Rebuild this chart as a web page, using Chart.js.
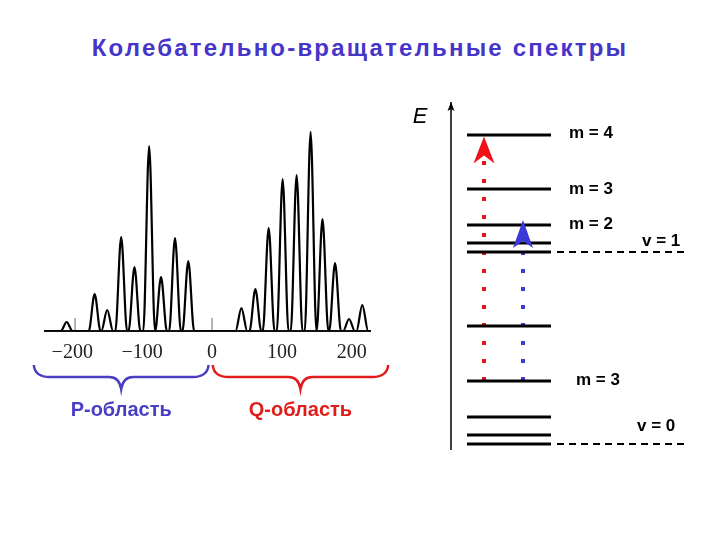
<!DOCTYPE html>
<html>
<head>
<meta charset="utf-8">
<script src="https://cdn.jsdelivr.net/npm/chart.js@4.4.1/dist/chart.umd.min.js"></script>
<style>
    html, body { margin: 0; padding: 0; background: #fff; }
    #wrap { position: relative; width: 720px; height: 540px; }
    #title {
        position: absolute; left: 0; top: 34px; width: 720px; line-height: 28px;
        text-align: center; color: #4535c8; letter-spacing: 2.2px;
        font: bold 24px "Liberation Sans", Arial, sans-serif;
    }
    #spec { position: absolute; left: 0; top: 0; }
    #levels { position: absolute; left: 400px; top: 0; }
</style>
</head>
<body>
<div id="wrap">
    <div id="title">Колебательно-вращательные спектры</div>
    <canvas id="spec" width="400" height="540"></canvas>
    <canvas id="levels" width="320" height="540"></canvas>
</div>
<script>
// spectrum: peak positions (cm-1) and heights
const pPeaks = [-208, -168, -150, -130, -111, -90, -73, -53, -34];
const pHeights = [9, 37, 21, 94, 64, 185, 54, 93, 70];
const qPeaks = [42, 62, 81, 101, 121, 141, 158, 176, 196, 215];
const qHeights = [23, 42, 103, 152, 156, 199, 112, 68, 12, 26];
const axisTicks = [-196, 0];
const regionNames = ['P-область', 'Q-область'];
const regionBounds = [[-255, -5], [1, 252]];
const regionColors = ['#4a3fc4', '#e01c1c'];

// energy diagram
const lowerLevels = [16, 25, 43, 79, 134];   // v = 0
const upperLevels = [208, 217, 235, 271, 325]; // v = 1
const levelLabels = ['m = 4', 'm = 3', 'm = 2', 'v = 1', 'm = 3', 'v = 0'];

const X_MIN = -239, X_MAX = 226, HALF = 8.4;

const peaks = pPeaks.map((x, i) => [x, pHeights[i]])
    .concat(qPeaks.map((x, i) => [x, qHeights[i]]));
const specPts = [{ x: X_MIN, y: 0 }];
peaks.forEach(([x, h]) => specPts.push({ x: x - HALF, y: 0 }, { x: x, y: h }, { x: x + HALF, y: 0 }));
specPts.push({ x: X_MAX, y: 0 });

function drawBrace(ctx, x1, x2, color) {
    const top = 365, mid = 377, tip = 389, xm = (x1 + x2) / 2;
    ctx.save();
    ctx.strokeStyle = color;
    ctx.lineWidth = 2.5;
    ctx.beginPath();
    ctx.moveTo(x1, top);
    ctx.quadraticCurveTo(x1 + 1, mid, x1 + 16, mid);
    ctx.lineTo(xm - 12, mid);
    ctx.quadraticCurveTo(xm - 2, mid, xm, tip);
    ctx.quadraticCurveTo(xm + 2, mid, xm + 12, mid);
    ctx.lineTo(x2 - 16, mid);
    ctx.quadraticCurveTo(x2 - 1, mid, x2, top);
    ctx.stroke();
    ctx.restore();
}

const bracePlugin = {
    id: 'braces',
    afterDraw(chart) {
        const ctx = chart.ctx, xs = chart.scales.x;
        regionBounds.forEach((b, i) => {
            const x1 = xs.getPixelForValue(b[0]), x2 = xs.getPixelForValue(b[1]);
            drawBrace(ctx, x1, x2, regionColors[i]);
            ctx.save();
            ctx.fillStyle = regionColors[i];
            ctx.font = 'bold 20px "Liberation Sans", Arial, sans-serif';
            ctx.textAlign = 'center';
            ctx.textBaseline = 'middle';
            ctx.fillText(regionNames[i], (x1 + x2) / 2, 410);
            ctx.restore();
        });
    },
};

new Chart(document.getElementById('spec'), {
    type: 'line',
    data: {
        datasets: [{
            data: specPts,
            borderColor: '#000',
            borderWidth: 2.2,
            cubicInterpolationMode: 'monotone',
        }].concat(axisTicks.map(t => ({
            data: [{ x: t, y: 0 }, { x: t, y: 13 }],
            borderColor: '#666',
            borderWidth: 1,
        }))),
    },
    options: {
        responsive: false,
        animation: false,
        layout: { padding: { left: 45, right: 30, top: 131, bottom: 0 } },
        plugins: { legend: { display: false }, tooltip: { enabled: false } },
        elements: { point: { radius: 0 } },
        scales: {
            x: {
                type: 'linear', min: X_MIN, max: X_MAX,
                grid: { display: false, drawTicks: false },
                border: { display: true, color: '#111', width: 2 },
                ticks: {
                    stepSize: 100, includeBounds: false, padding: 10, color: '#222',
                    font: { family: '"Liberation Serif"', size: 20 },
                    callback: (v) => String(v).replace('-', '\u2212'),
                },
                afterFit(scale) { scale.height = 209; },
            },
            y: { display: false, min: 0, max: 200 },
        },
    },
    plugins: [bracePlugin],
});

// energy diagram layout (x in px units of the right panel)
const LEVEL_X = [67, 151], DASH_X = [157, 286], AXIS_X = 51;
const RED = '#e3161e', BLUE = '#3d3bd0';

const levelSets = lowerLevels.concat(upperLevels).map(e => ({
    data: [{ x: LEVEL_X[0], y: e }, { x: LEVEL_X[1], y: e }],
    borderColor: '#000', borderWidth: 3,
}));
const dashSets = [lowerLevels[0], upperLevels[0]].map(e => ({
    data: [{ x: DASH_X[0], y: e }, { x: DASH_X[1], y: e }],
    borderColor: '#000', borderWidth: 2, borderDash: [7, 5],
}));
const transSets = [
    { data: [{ x: 84, y: lowerLevels[3] }, { x: 84, y: upperLevels[4] }], borderColor: RED,
      arrowHead: { color: '#f01018', len: 27, half: 10.5, notch: 8, shift: -1.5 } },
    { data: [{ x: 123, y: lowerLevels[3] }, { x: 123, y: upperLevels[2] }], borderColor: BLUE,
      arrowHead: { color: '#3a3ad6', len: 28, half: 10, notch: 7, shift: 5 } },
].map(d => Object.assign(d, { borderWidth: 4, borderDash: [4, 14] }));
const axisSet = {
    data: [{ x: AXIS_X, y: 10 }, { x: AXIS_X, y: 358 }],
    borderColor: '#000', borderWidth: 1.5,
    arrowHead: { color: '#000', len: 9, half: 3.5, notch: 2, shift: 0 },
};

const labelPos = [
    [169, upperLevels[4], -2], [169, upperLevels[3], 0], [169, upperLevels[2], -1],
    [242, upperLevels[0], -11], [176, lowerLevels[3], -1], [237, lowerLevels[0], -18],
];

const diagramPlugin = {
    id: 'diagram',
    afterDatasetsDraw(chart) {
        const ctx = chart.ctx;
        chart.data.datasets.forEach((ds, i) => {
            if (!ds.arrowHead) return;
            const a = ds.arrowHead;
            const meta = chart.getDatasetMeta(i);
            const p = meta.data[meta.data.length - 1];
            const y = p.y - a.shift;
            ctx.save();
            ctx.fillStyle = a.color;
            ctx.beginPath();
            ctx.moveTo(p.x, y);
            ctx.lineTo(p.x + a.half, y + a.len);
            ctx.lineTo(p.x, y + a.len - a.notch);
            ctx.lineTo(p.x - a.half, y + a.len);
            ctx.closePath();
            ctx.fill();
            ctx.restore();
        });
        const xs = chart.scales.x, ys = chart.scales.y;
        ctx.save();
        ctx.fillStyle = '#000';
        ctx.textBaseline = 'middle';
        ctx.textAlign = 'left';
        ctx.font = 'bold 17px "Liberation Sans", Arial, sans-serif';
        levelLabels.forEach((t, i) => {
            const [x, e, dy] = labelPos[i];
            ctx.fillText(t, xs.getPixelForValue(x), ys.getPixelForValue(e) + dy);
        });
        ctx.textAlign = 'center';
        ctx.font = 'italic 22px "Liberation Sans", Arial, sans-serif';
        ctx.fillText('E', xs.getPixelForValue(AXIS_X - 31), ys.getPixelForValue(343));
        ctx.restore();
    },
};

new Chart(document.getElementById('levels'), {
    type: 'line',
    data: { datasets: levelSets.concat(dashSets, transSets, [axisSet]) },
    options: {
        responsive: false,
        animation: false,
        layout: { padding: { left: 0, right: 0, top: 100, bottom: 80 } },
        plugins: { legend: { display: false }, tooltip: { enabled: false } },
        elements: { point: { radius: 0 }, line: { tension: 0 } },
        datasets: { line: { clip: false } },
        scales: {
            x: { type: 'linear', display: false, min: 0, max: 320 },
            y: { display: false, min: 0, max: 360 },
        },
    },
    plugins: [diagramPlugin],
});
</script>
</body>
</html>
